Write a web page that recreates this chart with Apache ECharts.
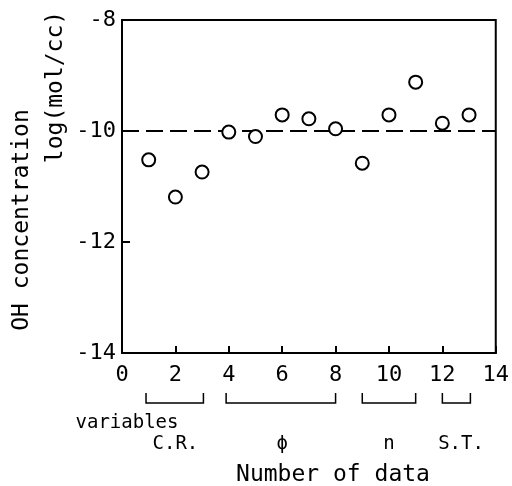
<!DOCTYPE html>
<html>
<head>
<meta charset="utf-8">
<script src="https://cdn.jsdelivr.net/npm/echarts@6/dist/echarts.min.js"></script>
<style>
  html, body { margin: 0; padding: 0; background: #fff; }
  #chart { width: 512px; height: 486px; }
</style>
</head>
<body>
<div id="chart"></div>
<script>
// ------------------------------------------------------- //
// Data
// ------------------------------------------------------ //
var dataNumbers = [1, 2, 3, 4, 5, 6, 7, 8, 9, 10, 11, 12, 13];
var ohLogValues = [-10.52, -11.19, -10.74, -10.02, -10.1, -9.71, -9.78, -9.96, -10.58, -9.71, -9.12, -9.86, -9.71];
var referenceLevel = -10;
var xTicks = [0, 2, 4, 6, 8, 10, 12, 14];
var yTicks = [-14, -12, -10, -8];

// variable groups under the x axis: from, to, label centre, label
var groupFrom = [0.9, 3.9, 9.0, 12.0];
var groupTo = [3.05, 8.0, 11.0, 13.05];
var groupCenter = [2, 6, 10, 12.7];
var groupNames = ['C.R.', '\u03d5', 'n', 'S.T.'];

var FONT = '"DejaVu Sans Mono", "Liberation Mono", monospace';

var points = dataNumbers.map(function (n, i) { return [n, ohLogValues[i]]; });
var groups = groupFrom.map(function (f, i) {
    return [f, groupTo[i], groupCenter[i], yTicks[0], groupNames[i]];
});

var chart = echarts.init(document.getElementById('chart'));
var option = {
    animation: false,
    backgroundColor: '#fff',
    grid: {
        left: 122, top: 20, right: 3, bottom: 133,
        show: true, borderColor: '#000', borderWidth: 2
    },
    xAxis: {
        type: 'value',
        min: xTicks[0],
        max: xTicks[xTicks.length - 1],
        interval: 2,
        axisLine: { lineStyle: { color: '#000', width: 2 } },
        axisTick: { inside: true, length: 7, lineStyle: { color: '#000', width: 2 } },
        axisLabel: { color: '#000', fontFamily: FONT, fontSize: 22, margin: 11, showMinLabel: true, showMaxLabel: true },
        splitLine: { show: false }
    },
    yAxis: {
        type: 'value',
        min: yTicks[0],
        max: yTicks[yTicks.length - 1],
        interval: 2,
        axisLine: { lineStyle: { color: '#000', width: 2 } },
        axisTick: { inside: true, length: 8, lineStyle: { color: '#000', width: 2 } },
        axisLabel: { color: '#000', fontFamily: FONT, fontSize: 22, margin: 6, showMinLabel: true, showMaxLabel: true },
        splitLine: { show: false }
    },
    graphic: [
        {
            type: 'text', x: 22, y: 220, rotation: Math.PI / 2,
            style: { text: 'OH concentration', font: '23px ' + FONT, fill: '#000', align: 'center', verticalAlign: 'middle' }
        },
        {
            type: 'text', x: 56, y: 87, rotation: Math.PI / 2,
            style: { text: 'log(mol/cc)', font: '23px ' + FONT, fill: '#000', align: 'center', verticalAlign: 'middle' }
        },
        {
            type: 'text', x: 127, y: 423,
            style: { text: 'variables', font: '19px ' + FONT, fill: '#000', align: 'center', verticalAlign: 'middle' }
        },
        {
            type: 'text', x: 333, y: 475,
            style: { text: 'Number of data', font: '23px ' + FONT, fill: '#000', align: 'center', verticalAlign: 'middle' }
        }
    ],
    series: [
        {
            type: 'scatter',
            data: points,
            symbol: 'circle',
            symbolSize: 13,
            itemStyle: { color: '#fff', borderColor: '#000', borderWidth: 2, opacity: 1 },
            z: 5,
            markLine: {
                silent: true,
                symbol: 'none',
                label: { show: false },
                lineStyle: { color: '#000', width: 2, type: [17, 7] },
                data: [{ yAxis: referenceLevel }]
            }
        },
        {
            type: 'custom',
            clip: false,
            silent: true,
            encode: { x: [0, 1, 2], y: 3 },
            data: groups,
            renderItem: function (params, api) {
                var a = api.coord([api.value(0), api.value(3)]);
                var b = api.coord([api.value(1), api.value(3)]);
                var c = api.coord([api.value(2), api.value(3)]);
                var top = a[1] + 40, bot = a[1] + 50;
                return {
                    type: 'group',
                    children: [
                        {
                            type: 'polyline',
                            shape: { points: [[a[0], top], [a[0], bot], [b[0], bot], [b[0], top]] },
                            style: { stroke: '#000', lineWidth: 1.5, fill: null }
                        },
                        {
                            type: 'text',
                            x: c[0], y: a[1] + 91,
                            style: { text: api.value(4), font: '19px ' + FONT, fill: '#000', align: 'center', verticalAlign: 'middle' }
                        }
                    ]
                };
            }
        }
    ]
};
chart.setOption(option);
</script>
</body>
</html>
